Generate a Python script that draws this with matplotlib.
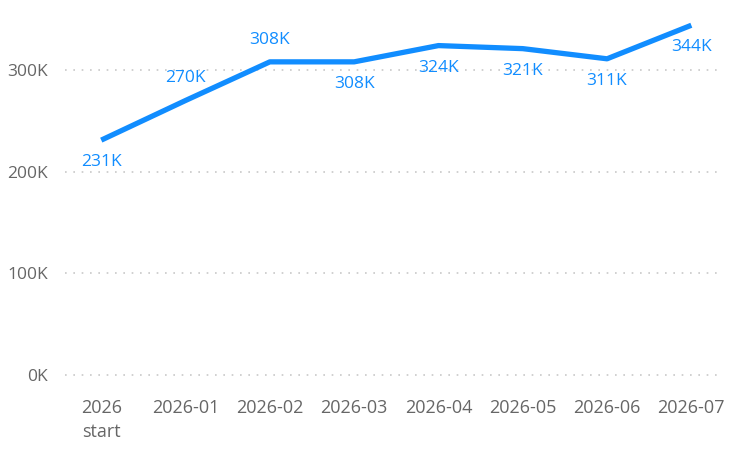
import matplotlib
matplotlib.use("Agg")
import matplotlib.pyplot as plt
from matplotlib.ticker import FuncFormatter

categories = ["2026\nstart", "2026-01", "2026-02", "2026-03", "2026-04", "2026-05", "2026-06", "2026-07"]
values = [231000, 270000, 308000, 308000, 324000, 321000, 311000, 344000]
label_pos = ["below", "above", "above", "below", "below", "below", "below", "below"]
yticks = [0, 100000, 200000, 300000]

blue = "#118DFF"
gray = "#666666"
plt.rcParams['font.family'] = ['Open Sans', 'DejaVu Sans']

fig = plt.figure(figsize=(7.42, 4.53), dpi=100)
ax = fig.add_axes([65/742, 1-375/453, (720-65)/742, (375-10)/453])
x = list(range(len(categories)))
ax.plot(x, values, color=blue, lw=3.8, solid_capstyle='butt', solid_joinstyle='round', zorder=3)

for xi, v, p in zip(x, values, label_pos):
    dy = -16 if p == "below" else 16
    ax.annotate(f"{round(v/1000):.0f}K", (xi, v), xytext=(0, dy), textcoords='offset points',
                ha='center', va='center', color=blue, fontsize=12.5)

ax.set_xlim(-0.43, 7.34)
ax.set_ylim(0, 359000)
ax.set_yticks(yticks)
ax.yaxis.set_major_formatter(FuncFormatter(lambda v, p: f"{v/1000:.0f}K"))
ax.set_xticks(x)
ax.set_xticklabels(categories, fontsize=13, linespacing=1.45)
ax.tick_params(axis='both', length=0, colors=gray)
ax.tick_params(axis='y', labelsize=12.5, pad=12)
ax.tick_params(axis='x', pad=17)
ax.grid(axis='y', color='#c8c8c8', linestyle=(0, (1, 4)), lw=1.2)
ax.set_axisbelow(True)
for s in ax.spines.values():
    s.set_visible(False)
for gl in ax.get_ygridlines():
    gl.set_clip_on(False)

fig.savefig("out.png", dpi=100)
